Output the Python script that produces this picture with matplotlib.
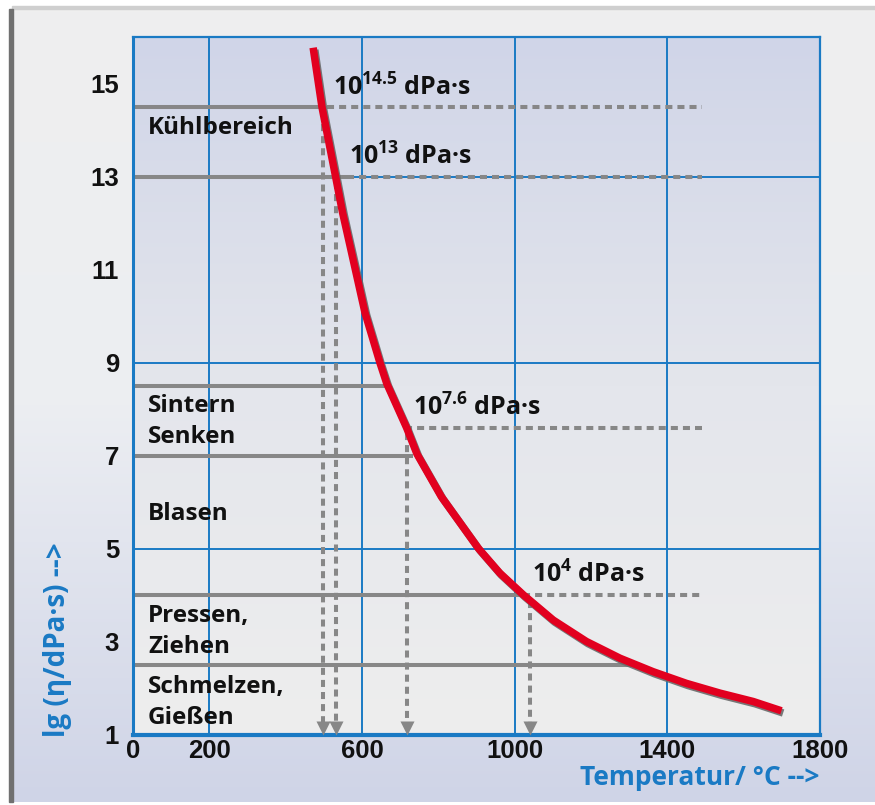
import numpy as np
import matplotlib
matplotlib.use('Agg')
import matplotlib.pyplot as plt
from matplotlib import patheffects as pe
from matplotlib.patches import Rectangle
from matplotlib.colors import LinearSegmentedColormap

# ---------------- data ----------------
temp = [472, 495, 532, 549, 569, 608, 647, 665, 717, 744, 808, 905, 961, 1023,
        1101, 1188, 1276, 1363, 1450, 1538, 1625, 1699]
lg_eta = [15.77, 14.5, 12.95, 12.23, 11.5, 10.07, 9.0, 8.55, 7.6, 7.04, 6.12,
          5.01, 4.48, 4.01, 3.47, 3.01, 2.65, 2.36, 2.11, 1.90, 1.72, 1.52]

x_ticks = [0, 200, 600, 1000, 1400, 1800]
y_ticks = [1, 3, 5, 7, 9, 11, 13, 15]
x_grid = [200, 600, 1000, 1400]
y_grid = [5, 9, 13]

regions = ['Kühlbereich', 'Sintern', 'Senken', 'Blasen', 'Pressen,', 'Ziehen',
           'Schmelzen,', 'Gießen']
region_y = [14.05, 8.07, 7.41, 5.75, 3.56, 2.89, 2.03, 1.37]

solid_levels = [14.5, 13, 8.5, 7, 4, 2.5]
solid_end = [495, 560, 660, 734, 1022, 1320]

fix_levels = [14.5, 13, 7.6, 4]
fix_exps = ['14.5', '13', '7.6', '4']
fix_temps = [498, 533, 717, 1040]
dash_start = [508, 560, 713, 1022]
dash_end = 1490
fix_label_x = [524, 566, 734, 1045]
fix_label_y = [14.9, 13.43, 8.02, 4.43]

# ---------------- style ----------------
W, H = 875, 805
DPI = 100
BLUE = '#1a7ac4'
RED = '#e2001f'
GREY = '#878787'
FONT = 'Open Sans'
plt.rcParams['font.family'] = [FONT, 'DejaVu Sans']
plt.rcParams['mathtext.fontset'] = 'custom'
plt.rcParams['mathtext.rm'] = FONT + ':bold'
plt.rcParams['mathtext.it'] = FONT + ':bold'
plt.rcParams['mathtext.bf'] = FONT + ':bold'

fig = plt.figure(figsize=(W / DPI, H / DPI), dpi=DPI)
fig.patch.set_facecolor('white')

def fx(px):
    return px / W

def fy(py):
    return 1 - py / H

# outer frame with gradient
bg = fig.add_axes([fx(12), fy(802), fx(875) - fx(12), fy(10) - fy(802)], zorder=-5)
cmap_bg = LinearSegmentedColormap.from_list('bg', ['#efefef', '#eceef2', '#cfd4e7'])
bg.imshow(np.linspace(0, 1, 256).reshape(-1, 1), aspect='auto', cmap=cmap_bg,
          extent=[0, 1, 0, 1])
bg.set_axis_off()
fig.patches.append(Rectangle((fx(12), fy(9)), 1, fy(6) - fy(9), transform=fig.transFigure,
                             color='#cfcfcf', zorder=-4))
fig.patches.append(Rectangle((fx(9), fy(802)), fx(4), fy(9) - fy(802), transform=fig.transFigure,
                             color='#707070', zorder=-4))

# main axes
ax = fig.add_axes([fx(133), fy(735), fx(820) - fx(133), fy(37) - fy(735)])
ax.set_xlim(0, 1800)
ax.set_ylim(1, 16)
cmap_ax = LinearSegmentedColormap.from_list('ax', ['#eeeeee', '#e4e6ec', '#d0d5e8'])
ax.imshow(np.linspace(0, 1, 256).reshape(-1, 1), aspect='auto', cmap=cmap_ax,
          extent=[0, 1, 0, 1], transform=ax.transAxes, origin='lower', zorder=0)

for g in x_grid:
    ax.axvline(g, color=BLUE, lw=1.4, zorder=1)
for g in y_grid:
    ax.axhline(g, color=BLUE, lw=1.4, zorder=1)

for s in ['top', 'right']:
    ax.spines[s].set_color(BLUE)
    ax.spines[s].set_linewidth(1.6)
ax.spines['left'].set_color(BLUE)
ax.spines['left'].set_linewidth(2.2)
ax.spines['bottom'].set_color(BLUE)
ax.spines['bottom'].set_linewidth(3.0)

ax.set_xticks(x_ticks)
ax.set_yticks(y_ticks)
ax.tick_params(length=0, labelsize=18.5, pad=3)
ax.tick_params(axis='y', pad=10)
for lab in ax.get_xticklabels() + ax.get_yticklabels():
    lab.set_fontweight('bold')
    lab.set_family(['Liberation Sans', 'DejaVu Sans'])
    lab.set_color('#111111')

LW = 2.9
dash = (1.75, 1.25)

# solid reference lines
for lvl, xe in zip(solid_levels, solid_end):
    ax.plot([0, xe], [lvl, lvl], color=GREY, lw=LW, solid_capstyle='butt', zorder=2)

# dashed horizontal and vertical lines with arrow heads
for lvl, xt, xs in zip(fix_levels, fix_temps, dash_start):
    ax.plot([xs, dash_end], [lvl, lvl], color=GREY, lw=LW, dashes=dash,
            dash_capstyle='butt', zorder=2)
    ax.plot([xt, xt], [lvl - 0.12, 1.25], color=GREY, lw=LW, dashes=dash,
            dash_capstyle='butt', zorder=2)
    ax.plot([xt], [1.14], marker='v', markersize=9.5, color=GREY, mec='none', zorder=3,
            clip_on=False)

# curve
ax.plot(temp, lg_eta, color=RED, lw=5.4, solid_capstyle='butt', solid_joinstyle='round',
        zorder=4,
        path_effects=[pe.SimpleLineShadow(offset=(1.2, -1.6), shadow_color='#6a6a6a', alpha=0.9),
                      pe.Normal()])

# region labels
for txt, yv in zip(regions, region_y):
    ax.text(39, yv, txt, fontsize=17.5, fontweight='bold', va='center', ha='left',
            color='#111111', zorder=5)

# viscosity labels
for e, xv, yv in zip(fix_exps, fix_label_x, fix_label_y):
    ax.text(xv, yv, r'$\mathregular{10^{%s}}$ dPa·s' % e, fontsize=18,
            fontweight='bold', va='center', ha='left', color='#111111', zorder=5)

# axis labels
fig.text(fx(58), fy(737), 'lg (η/dPa·s) -->', rotation=90, color=BLUE, fontsize=20,
         fontweight='bold', ha='center', va='bottom')
fig.text(fx(820), fy(777), 'Temperatur/ °C -->', color=BLUE, fontsize=19,
         fontweight='bold', ha='right', va='center')

fig.savefig('out.png', dpi=DPI)
